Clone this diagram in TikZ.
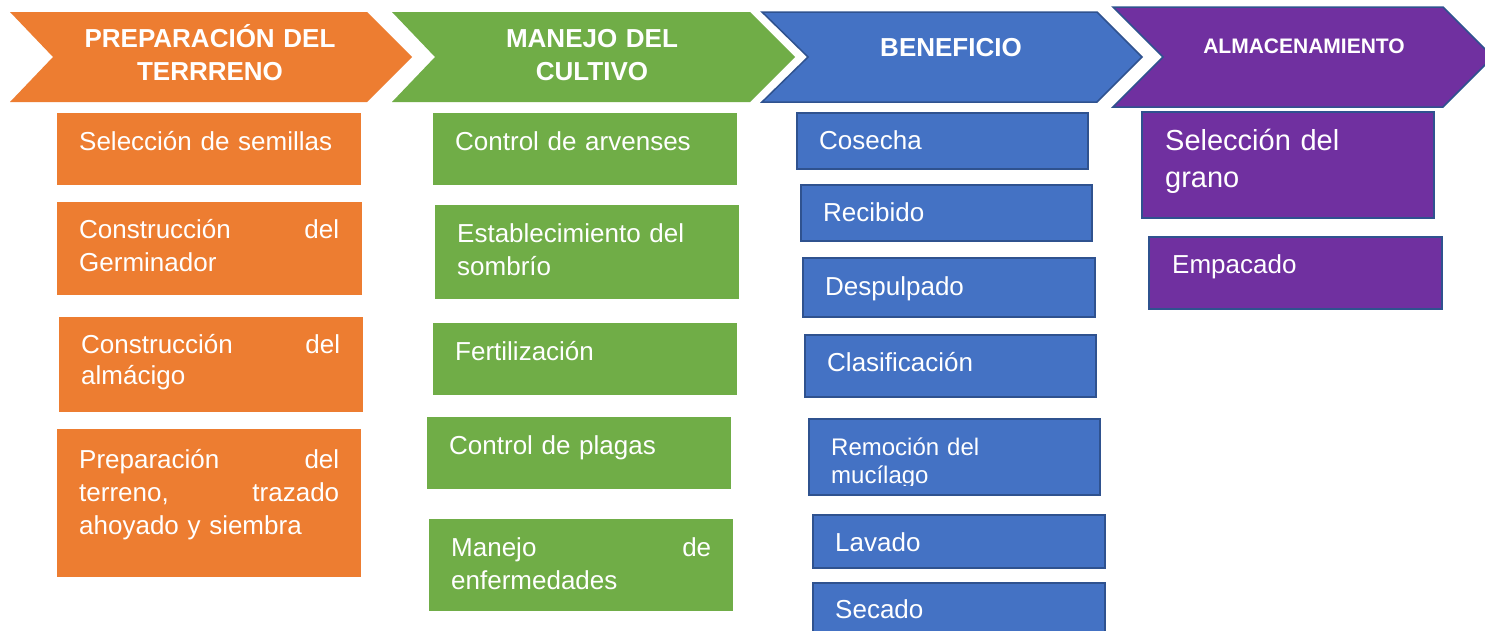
\documentclass[tikz,border=0pt]{standalone}
\usepackage{fontspec}
\setmainfont{Liberation Sans}
\definecolor{cOr}{HTML}{ED7D31}
\definecolor{cGr}{HTML}{70AD47}
\definecolor{cBl}{HTML}{4472C4}
\definecolor{cPu}{HTML}{7030A0}
\definecolor{cBd}{HTML}{2F528F}
\tikzset{
  orbox/.style={fill=cOr},
  grbox/.style={fill=cGr},
  blbox/.style={fill=cBl, draw=cBd, line width=1.5pt},
  pubox/.style={fill=cPu, draw=cBd, line width=1.5pt},
  head/.style={anchor=north, inner sep=0pt, text=white, align=center, text width=340pt,
    font=\bfseries\fontsize{26}{33}\selectfont, execute at begin node={\rule{0pt}{25pt}}},
  smallhead/.style={head, font=\bfseries\fontsize{21}{26}\selectfont},
  txt/.style={anchor=north west, inner sep=0pt, text=white, align=left, text width=#1,
    font=\fontsize{26}{33}\selectfont, execute at begin node={\rule{0pt}{22pt}}},
  txt/.default=300pt,
}
\begin{document}
\begin{tikzpicture}[x=1pt,y=-1pt]
\clip (0,0) rectangle (1485,630);
\fill[white] (0,0) rectangle (1485,630);
% chevrons
\fill[cOr] (10,12) -- (367,12) -- (412,57) -- (367,102) -- (10,102) -- (53,57) -- cycle;
\fill[cGr] (392,12) -- (750,12) -- (795,57) -- (750,102) -- (392,102) -- (435,57) -- cycle;
\filldraw[blbox] (762,12) -- (1097,12) -- (1142,57) -- (1097,102) -- (762,102) -- (808,57) -- cycle;
\filldraw[pubox] (1113,7) -- (1443,7) -- (1493,57) -- (1443,107) -- (1113,107) -- (1163,57) -- cycle;
\node[head] (h1) at (210,22) {PREPARACIÓN DEL\\TERRRENO};
\node[head] (h2) at (592,22) {MANEJO DEL\\CULTIVO};
\node[head] (h3) at (951,31) {BENEFICIO};
\node[smallhead] (h4) at (1304,28) {ALMACENAMIENTO};
% orange column
\fill[orbox] (57,113) rectangle (361,185);
\fill[orbox] (57,202) rectangle (362,295);
\fill[orbox] (59,317) rectangle (363,412);
\fill[orbox] (57,429) rectangle (361,577);
\node[txt=270pt] (o1) at (79,128) {Selección de semillas};
\node[txt=260pt] (o2) at (79,216) {Construcción\hfill del\\Germinador};
\node[txt=259pt] (o3) at (81,331) {Construcción\hfill del\\[-1.5pt]almácigo};
\node[txt=260pt] (o4) at (79,446) {Preparación\hfill del\\terreno,\hfill trazado\\ahoyado y siembra};
% green column
\fill[grbox] (433,113) rectangle (737,185);
\fill[grbox] (435,205) rectangle (739,299);
\fill[grbox] (433,323) rectangle (737,395);
\fill[grbox] (427,417) rectangle (731,489);
\fill[grbox] (429,519) rectangle (733,611);
\node[txt] (g1) at (455,128) {Control de arvenses};
\node[txt] (g2) at (457,220) {Establecimiento del\\sombrío};
\node[txt] (g3) at (455,338) {Fertilización};
\node[txt] (g4) at (449,432) {Control de plagas};
\node[txt=260pt] (g5) at (451,534) {Manejo\hfill de\\enfermedades};
% blue column
\draw[blbox] (797,113) rectangle (1088,169);
\draw[blbox] (801,185) rectangle (1092,241);
\draw[blbox] (803,258) rectangle (1095,317);
\draw[blbox] (805,335) rectangle (1096,397);
\draw[blbox] (809,419) rectangle (1100,495);
\draw[blbox] (813,515) rectangle (1105,568);
\draw[blbox] (813,583) rectangle (1105,645);
\node[txt] (b1) at (819,127) {Cosecha};
\node[txt] (b2) at (823,199) {Recibido};
\node[txt] (b3) at (825,273) {Despulpado};
\node[txt] (b4) at (827,349) {Clasificación};
\begin{scope}
\clip (809,419) rectangle (1100,485);
\node[txt, font=\fontsize{24}{28}\selectfont, execute at begin node={\rule{0pt}{20pt}}] (b5) at (831,433) {Remoción del\\mucílago};
\end{scope}
\node[txt] (b6) at (835,529) {Lavado};
\node[txt] (b7) at (835,596) {Secado};
% purple column
\draw[pubox] (1142,112) rectangle (1434,218);
\draw[pubox] (1149,237) rectangle (1442,309);
\node[txt, font=\fontsize{29}{37}\selectfont, execute at begin node={\rule{0pt}{24pt}}] (p1) at (1165,126) {Selección del\\grano};
\node[txt] (p2) at (1172,251) {Empacado};
\end{tikzpicture}
\end{document}
